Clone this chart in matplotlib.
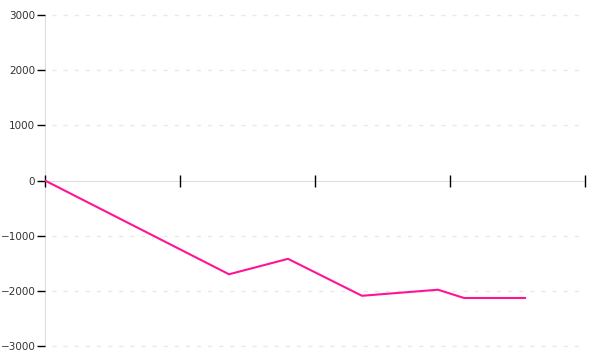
import matplotlib
matplotlib.use("Agg")
from matplotlib import pyplot as plt

# values
x_vals = [0, 1.363, 1.80, 2.348, 2.911, 3.104, 3.556]
y_vals = [0, -1700, -1420, -2090, -1980, -2130, -2130]
x_ticks = [0, 1, 2, 3, 4]
y_ticks = [-3000, -2000, -1000, 0, 1000, 2000, 3000]

fig = plt.figure(figsize=(6, 3.6), dpi=100)
ax = fig.add_axes([0.075, 0.039, 0.9, 0.919])

ax.plot(x_vals, y_vals, color="#ff1493", linewidth=1.5, zorder=3,
        solid_joinstyle="miter")

ax.set_xlim(0, 4)
ax.set_ylim(-3000, 3000)
ax.set_xticks(x_ticks)
ax.set_yticks(y_ticks)
ax.set_yticklabels([str(v).replace("-", "\u2212") for v in y_ticks])

for side in ("top", "right"):
    ax.spines[side].set_visible(False)
ax.spines["left"].set_color("#dddddd")
ax.spines["bottom"].set_color("#dddddd")
ax.spines["bottom"].set_position(("data", 0))
ax.spines["left"].set_zorder(0.5)
ax.spines["bottom"].set_zorder(0.5)

ax.tick_params(axis="x", direction="inout", length=9, width=1,
               color="black", labelbottom=False)
ax.tick_params(axis="y", direction="out", length=6, width=1,
               color="black", labelsize=7.5, labelcolor="#333333", pad=1)

# dashed grid, a bit short of the right edge like the reference
for v in y_ticks:
    if v != 0:
        ax.plot([0.05, 3.97], [v, v], color="#e8e8e8", linewidth=1,
                linestyle=(0, (3, 5)), zorder=0, clip_on=False)

fig.savefig("out.png", dpi=100)
